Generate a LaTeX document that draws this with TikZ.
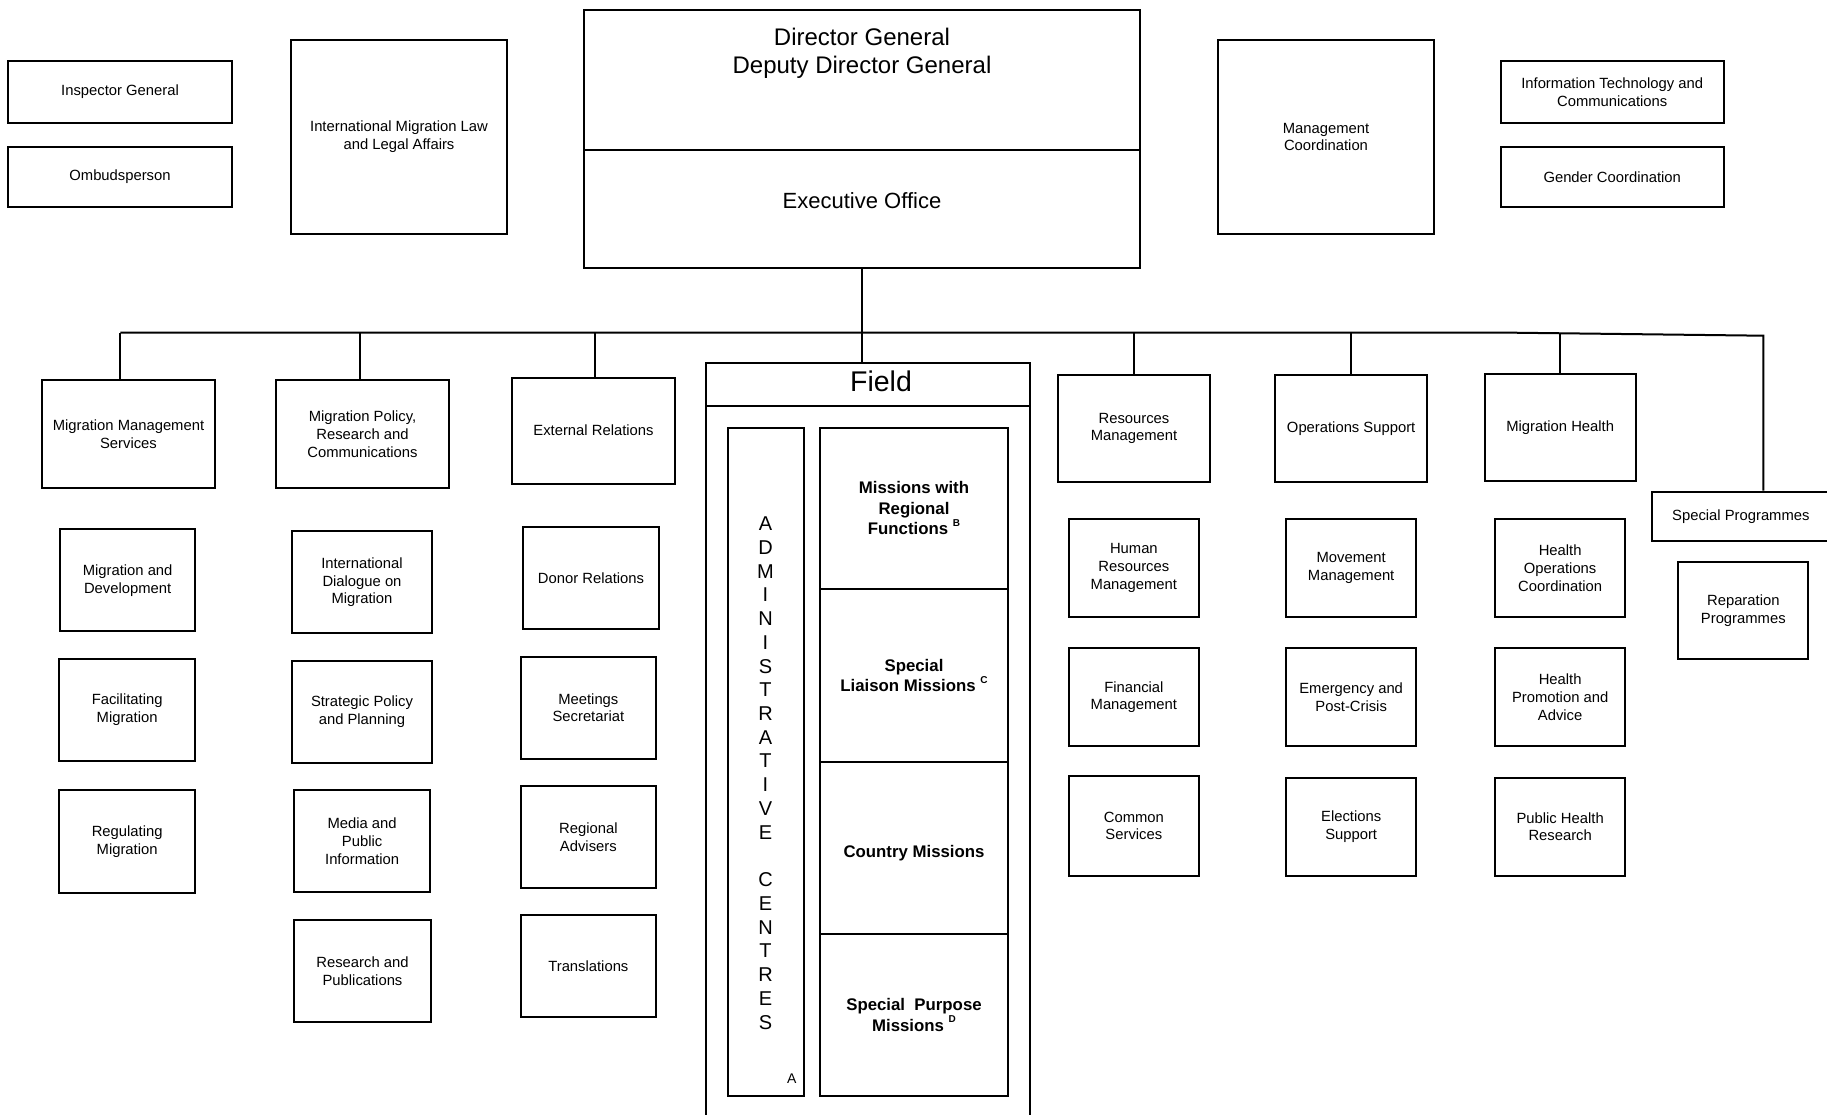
\documentclass[tikz,border=0pt]{standalone}
\usepackage{fontspec}
\setmainfont{Liberation Sans}
\newcommand\supl[1]{\raisebox{8.5pt}{\fontsize{10}{10}\selectfont #1}}
\newcommand\obox[7][bx]{\node[#1, minimum width={(#5)-(#3)}, minimum height={(#6)-(#4)}] (#2) at ({((#3)+(#5))/2},{((#4)+(#6))/2}) {#7};}
\tikzset{
  bx/.style={draw, line width=2pt, align=center, inner sep=0pt, font=\fontsize{14.8}{17.8}\selectfont},
  mbx/.style={bx, font=\bfseries\fontsize{16.8}{20.5}\selectfont},
  conn/.style={line width=2pt},
  acl/.style={inner sep=0pt, font=\fontsize{20}{24}\selectfont},
}
\begin{document}
\begin{tikzpicture}[x=1pt,y=-1pt]
\useasboundingbox (0,0) rectangle (1827,1115);
% top row
\obox{IG}{8}{61}{232}{123}{Inspector General}
\obox{OMB}{8}{147}{232}{207}{Ombudsperson}
\obox{IML}{291}{40}{507}{234}{International Migration Law\\and Legal Affairs}
\obox{DGtop}{584}{10}{1140}{150}{}
\obox{EO}{584}{150}{1140}{268}{}
\node[anchor=base, inner sep=0pt, font=\fontsize{24}{27}\selectfont] (dg1) at (862,46) {Director General};
\node[anchor=base, inner sep=0pt, font=\fontsize{24}{27}\selectfont] (dg2) at (862,73.3) {Deputy Director General};
\node[anchor=base, inner sep=0pt, font=\fontsize{22}{26}\selectfont] (eot) at (862,208.3) {Executive Office};
\obox{MC}{1218}{40}{1434}{234}{Management\\Coordination}
\obox{ITC}{1500.6}{61}{1723.8}{123}{Information Technology and\\Communications}
\obox{GC}{1500.6}{147}{1723.8}{207}{Gender Coordination}
% second row
\obox{MMS}{42}{379.7}{215}{488.3}{Migration Management\\Services}
\obox{MPRC}{276}{380.3}{449}{487.7}{Migration Policy,\\Research and\\Communications}
\obox{ER}{512.3}{377.7}{674.7}{483.7}{External Relations}
\obox{FieldH}{706.3}{363}{1030}{406}{}
\node[anchor=base, inner sep=0pt, font=\fontsize{28.5}{32}\selectfont] (fieldt) at (881,391) {Field};
\obox{FieldB}{706.3}{406}{1030}{1130}{}
\obox{RM}{1058.3}{375}{1209.7}{481.7}{Resources\\Management}
\obox{OS}{1275.3}{375}{1427}{481.7}{Operations Support}
\obox{MH}{1484.7}{374}{1635.7}{481}{Migration Health}
\obox{SP}{1651.7}{491.7}{1830}{541}{Special Programmes}
% third level
\obox{MD}{60}{529.3}{195.3}{631.3}{Migration and\\Development}
\obox{FM}{59}{659}{195.3}{760.7}{Facilitating\\Migration}
\obox{RegM}{59}{790.3}{195.3}{892.7}{Regulating\\Migration}
\obox{IDM}{291.7}{531.3}{432.3}{633.3}{International\\Dialogue on\\Migration}
\obox{SPP}{291.7}{660.7}{432.3}{762.7}{Strategic Policy\\and Planning}
\obox{MPI}{294}{790}{430.3}{892.3}{Media and\\Public\\Information}
\obox{RP}{294.3}{919.7}{430.7}{1022}{Research and\\Publications}
\obox{DR}{523.3}{527.3}{658.7}{629.3}{Donor Relations}
\obox{MS}{520.7}{656.7}{656}{758.7}{Meetings\\Secretariat}
\obox{RA}{520.7}{786}{656}{888}{Regional\\Advisers}
\obox{TR}{520.7}{915.3}{656}{1017.3}{Translations}
% field content
\obox{AC}{728}{427.7}{803.7}{1095.7}{}
\foreach \l [count=\i from 0] in {A,D,M,I,N,I,S,T,R,A,T,I,V,E}
  \node[acl] (aca\i) at (765.5,{523.7+\i*23.74}) {\l};
\foreach \l [count=\i from 15] in {C,E,N,T,R,E,S}
  \node[acl] (acb\i) at (765.5,{523.7+\i*23.74}) {\l};
\node[inner sep=0pt, font=\fontsize{14}{16}\selectfont] (acA) at (791.7,1079) {A};
\obox[mbx]{MRF}{819.7}{427.7}{1008.3}{589}{Missions with\\Regional\\Functions \supl{B}}
\obox[mbx]{SLM}{819.7}{589}{1008.3}{762}{Special\\Liaison Missions \supl{C}}
\obox[mbx]{CM}{819.7}{762}{1008.3}{934.3}{}
\node[inner sep=0pt, font=\bfseries\fontsize{16.8}{20.5}\selectfont] (cmt) at (914,853.3) {Country Missions};
\obox[mbx]{SPM}{819.7}{934.3}{1008.3}{1095.7}{Special~ Purpose\\Missions \supl{D}}
% right columns
\obox{HRM}{1069}{519}{1198.7}{617}{Human\\Resources\\Management}
\obox{FinM}{1069}{648.3}{1198.7}{746}{Financial\\Management}
\obox{CS}{1069}{776}{1198.7}{875.7}{Common\\Services}
\obox{MovM}{1286.3}{519}{1416}{617}{Movement\\Management}
\obox{EPC}{1286.3}{648.3}{1416}{746}{Emergency and\\Post-Crisis}
\obox{ES}{1286.3}{777.7}{1416}{875.7}{Elections\\Support}
\obox{HOC}{1495.3}{519}{1625}{617}{Health\\Operations\\Coordination}
\obox{HPA}{1495.3}{648}{1625}{746}{Health\\Promotion and\\Advice}
\obox{PHR}{1495.3}{777.7}{1625}{875.7}{Public Health\\Research}
\obox{RepP}{1678.3}{561.7}{1808.3}{659}{Reparation\\Programmes}
% bus
\coordinate (b1) at (120.3,332.7);
\coordinate (b2) at (359.7,332.7);
\coordinate (b3) at (595.3,332.7);
\coordinate (b5) at (1133.7,332.7);
\coordinate (b6) at (1351,332.7);
\coordinate (b7) at (1513,332.7);
\coordinate (b8) at (1559.5,333.3);
\coordinate (b9) at (1763.3,335.7);
\draw[conn] (b1) -- (b7) -- (b9) -- (b9 |- SP.north);
\draw[conn] (b1) -- (b1 |- MMS.north);
\draw[conn] (b2) -- (b2 |- MPRC.north);
\draw[conn] (b3) -- (b3 |- ER.north);
\draw[conn] (EO.south) -- (EO.south |- FieldH.north);
\draw[conn] (b5) -- (b5 |- RM.north);
\draw[conn] (b6) -- (b6 |- OS.north);
\draw[conn] (b8) -- (b8 |- MH.north);
\end{tikzpicture}
\end{document}
